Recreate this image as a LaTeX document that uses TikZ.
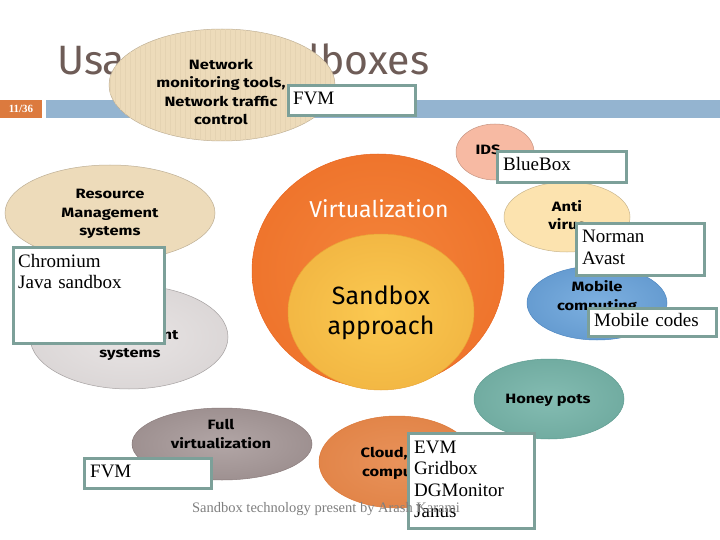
\documentclass[tikz,border=0pt]{standalone}
\usepackage{fontspec}
\setmainfont{Liberation Serif}
\newfontfamily\comicfont{Fira Sans}
\newfontfamily\tagfont{Fira Sans}[FakeStretch=1.22]
\usetikzlibrary{shapes.geometric,positioning}

\definecolor{boxedge}{HTML}{7CA099}
\definecolor{titlegray}{HTML}{6E5C57}
\definecolor{barblue}{HTML}{94B4D0}
\definecolor{numorange}{HTML}{DC7A3E}
\definecolor{tan}{HTML}{EDDBBA}
\definecolor{tanstripe}{HTML}{E5D3B2}
\definecolor{salmon}{HTML}{F7BAA3}
\definecolor{paleyellow}{HTML}{FCE3AF}
\definecolor{mobin}{HTML}{7DB0E0}
\definecolor{mobout}{HTML}{4F88C2}
\definecolor{virtin}{HTML}{F4843A}
\definecolor{virtout}{HTML}{E9651F}
\definecolor{sandin}{HTML}{FBC951}
\definecolor{sandout}{HTML}{EAA636}
\definecolor{grayin}{HTML}{E8E4E4}
\definecolor{grayout}{HTML}{CFCACA}
\definecolor{fullin}{HTML}{B2A6A6}
\definecolor{fullout}{HTML}{8A7B7B}
\definecolor{cloudin}{HTML}{E8925A}
\definecolor{cloudout}{HTML}{DC7838}
\definecolor{honeyin}{HTML}{84BCB2}
\definecolor{honeyout}{HTML}{5E9C90}

\pgfdeclareradialshading{mobileglow}{\pgfpoint{0bp}{0bp}}{color(0bp)=(mobin); color(50bp)=(mobout)}
\pgfdeclareradialshading{virtglow}{\pgfpoint{0bp}{0bp}}{color(0bp)=(virtin); color(50bp)=(virtout)}
\pgfdeclareradialshading{sandglow}{\pgfpoint{0bp}{0bp}}{color(0bp)=(sandin); color(50bp)=(sandout)}
\pgfdeclareradialshading{grayglow}{\pgfpoint{0bp}{0bp}}{color(0bp)=(grayin); color(50bp)=(grayout)}
\pgfdeclareradialshading{fullglow}{\pgfpoint{0bp}{0bp}}{color(0bp)=(fullin); color(50bp)=(fullout)}
\pgfdeclareradialshading{cloudglow}{\pgfpoint{0bp}{0bp}}{color(0bp)=(cloudin); color(50bp)=(cloudout)}
\pgfdeclareradialshading{honeyglow}{\pgfpoint{0bp}{0bp}}{color(0bp)=(honeyin); color(50bp)=(honeyout)}

\begin{document}
\begin{tikzpicture}[
        x=1pt,
        y=-1pt,
        bubble/.style={ellipse, draw=#1, line width=0.5pt, inner sep=0pt},
        glow/.style={shade, shading=#1},
        tag/.style={font=\tagfont\bfseries\fontsize{13.5}{18.5}\selectfont, align=center, inner sep=0pt},
        callout/.style={draw=boxedge, line width=3pt, fill=white, anchor=north west, inner sep=0pt},
        calltext/.style={font=\fontsize{19}{21.5}\selectfont, anchor=base west, text width=118pt, align=left, inner sep=0pt}
    ]
        \useasboundingbox[fill=white] (0,0) rectangle (720,540);

        % Header: title, page number and bar.
        \node[anchor=base west, inner sep=0pt, text=titlegray, font=\comicfont\fontsize{41}{41}\selectfont] (title) at (57,75) {Usage of Sandboxes};
        \fill[numorange] (0,100) rectangle (42,118);
        \node[text=white, font=\bfseries\fontsize{11}{11}\selectfont] (pagenum) at (21,109) {11/36};
        \fill[barblue] (46,100) rectangle (720,118);

        % Network tools bubble with its stripes.
        \node[bubble=tan!80!black, fill=tan, minimum width=226pt, minimum height=112pt] (net) at (222,85) {};
        \begin{scope}
            \clip (222,85) ellipse [x radius=113, y radius=56];
            \foreach \x in {110,115,...,335} {
                \draw[tanstripe, line width=0.6pt] (\x,25) -- (\x,145);
            }
        \end{scope}
        \node[tag] (nettxt) at (221,92) {Network\\monitoring tools,\\Network traffic\\control};

        % Centre: virtualization and sandbox approach.
        \node[bubble=virtout, glow=virtglow, minimum width=252pt, minimum height=234pt] (virt) at (378,271) {};
        \node[text=white, font=\comicfont\fontsize{23}{23}\selectfont, inner sep=0pt] (virttxt) at (379,209) {Virtualization};
        \node[bubble=sandout, glow=sandglow, minimum width=186pt, minimum height=156pt] (sand) at (381,312) {};
        \node[font=\comicfont\fontsize{25}{30}\selectfont, align=center, inner sep=0pt] (sandtxt) at (381,313) {Sandbox\\approach};

        % Left side bubbles.
        \node[bubble=tan!80!black, fill=tan, minimum width=210pt, minimum height=96pt] (res) at (110,213) {};
        \node[tag] (restxt) at (110,214) {Resource\\Management\\systems};
        \node[bubble=grayout!80!black, glow=grayglow, minimum width=198pt, minimum height=104pt] (stor) at (129,337) {};
        \node[tag] (stortxt) at (130,336) {Storage\\Management\\systems};
        \node[bubble=fullout, glow=fullglow, minimum width=180pt, minimum height=72pt] (full) at (222,444) {};
        \node[tag] (fulltxt) at (221,434) {Full\\virtualization};

        % Right side bubbles.
        \node[bubble=salmon!80!black, fill=salmon, minimum width=78pt, minimum height=56pt] (ids) at (495,152) {};
        \node[tag] (idstxt) at (488,150) {IDS};
        \node[bubble=paleyellow!80!black, fill=paleyellow, minimum width=126pt, minimum height=70pt] (anti) at (567,217) {};
        \node[tag] (antitxt) at (567,215) {Anti\\virus};
        \node[bubble=mobout, glow=mobileglow, minimum width=140pt, minimum height=74pt] (mob) at (597,303) {};
        \node[tag] (mobtxt) at (597,297) {Mobile\\computing};
        \node[bubble=honeyout, glow=honeyglow, minimum width=150pt, minimum height=80pt] (honey) at (549,399) {};
        \node[tag] (honeytxt) at (548,400) {Honey pots};
        \node[bubble=cloudout, glow=cloudglow, minimum width=156pt, minimum height=92pt] (cloud) at (397,462) {};
        \node[tag] (cloudtxt) at (402,463) {Cloud, Grid\\computing};

        % Example boxes.
        \node[callout, minimum width=127pt, minimum height=30pt] (fvmtop) at (287,84) {};
        \node[calltext] (fvmtoptxt) at ([shift={(6,21)}]fvmtop.north west) {FVM};
        \node[callout, minimum width=129pt, minimum height=31pt] (blue) at (496,150) {};
        \node[calltext] (bluetxt) at ([shift={(7,21)}]blue.north west) {BlueBox};
        \node[callout, minimum width=128pt, minimum height=52pt] (norman) at (575,222) {};
        \node[calltext] (normantxt) at ([shift={(7,21)}]norman.north west) {Norman\\Avast};
        \node[callout, minimum width=128pt, minimum height=28pt] (mobcode) at (587,307) {};
        \node[calltext] (mobcodetxt) at ([shift={(7,19)}]mobcode.north west) {Mobile\,\,codes};
        \node[callout, minimum width=151pt, minimum height=96pt] (chrome) at (12,246) {};
        \node[calltext] (chrometxt) at ([shift={(6,21)}]chrome.north west) {Chromium\\Java sandbox};
        \node[callout, minimum width=127pt, minimum height=30pt] (fvmbot) at (83,457) {};
        \node[calltext] (fvmbottxt) at ([shift={(7,20)}]fvmbot.north west) {FVM};
        \node[callout, minimum width=126pt, minimum height=95pt] (evm) at (407,432) {};
        \node[calltext] (evmtxt) at ([shift={(7,21)}]evm.north west) {EVM\\Gridbox\\DGMonitor\\Janus};

        % Footer.
        \node[text=black!50, font=\fontsize{14.5}{14.5}\selectfont, anchor=base, inner sep=0pt] (footer) at (326,512) {Sandbox technology present by Arash Karami};
    \end{tikzpicture}
\end{document}
